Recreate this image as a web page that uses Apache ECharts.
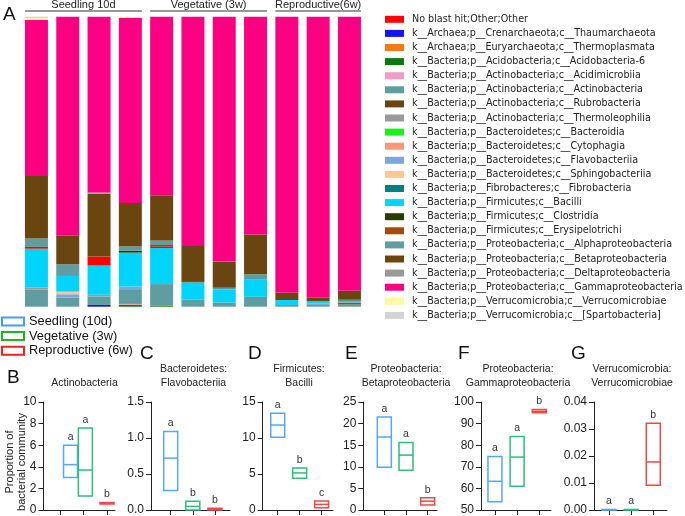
<!DOCTYPE html>
<html><head><meta charset="utf-8">
<script src="https://cdn.jsdelivr.net/npm/echarts@6/dist/echarts.min.js"></script>
<style>html,body{margin:0;padding:0;background:#fff}#c{width:685px;height:516px}</style>
</head><body><div id="c"></div>
<script>
// ---------- Panel A: stacked taxa bars (11 samples) ----------
const samples = ['S1','S2','S3','S4','S5','S6','S7','S8','S9','S10','S11'];
const groupLabels = ['Seedling 10d','Vegetative (3w)','Reproductive(6w)'];

const taxaNames = [
  'No blast hit;Other;Other',
  'k__Archaea;p__Crenarchaeota;c__Thaumarchaeota',
  'k__Archaea;p__Euryarchaeota;c__Thermoplasmata',
  'k__Bacteria;p__Acidobacteria;c__Acidobacteria-6',
  'k__Bacteria;p__Actinobacteria;c__Acidimicrobiia',
  'k__Bacteria;p__Actinobacteria;c__Actinobacteria',
  'k__Bacteria;p__Actinobacteria;c__Rubrobacteria',
  'k__Bacteria;p__Actinobacteria;c__Thermoleophilia',
  'k__Bacteria;p__Bacteroidetes;c__Bacteroidia',
  'k__Bacteria;p__Bacteroidetes;c__Cytophagia',
  'k__Bacteria;p__Bacteroidetes;c__Flavobacteriia',
  'k__Bacteria;p__Bacteroidetes;c__Sphingobacteriia',
  'k__Bacteria;p__Fibrobacteres;c__Fibrobacteria',
  'k__Bacteria;p__Firmicutes;c__Bacilli',
  'k__Bacteria;p__Firmicutes;c__Clostridia',
  'k__Bacteria;p__Firmicutes;c__Erysipelotrichi',
  'k__Bacteria;p__Proteobacteria;c__Alphaproteobacteria',
  'k__Bacteria;p__Proteobacteria;c__Betaproteobacteria',
  'k__Bacteria;p__Proteobacteria;c__Deltaproteobacteria',
  'k__Bacteria;p__Proteobacteria;c__Gammaproteobacteria',
  'k__Bacteria;p__Verrucomicrobia;c__Verrucomicrobiae',
  'k__Bacteria;p__Verrucomicrobia;c__[Spartobacteria]'
];
const taxaColors = ['#FF0000','#1414F0','#F57A14','#0A7A0A','#F59BC5','#5F9EA0','#6B4510','#999999',
  '#1EEE1E','#F8977A','#7BA7DC','#FFC98C','#008080','#00D4FA','#263F00','#A34A0C',
  '#5F9EA0','#6B4510','#999999','#FC0082','#FFF9A0','#D3D3D3'];

// relative abundance (%) per sample
const noBlastHit       = [0.6,0,3.1,0,0.5,0,0,0,0,0,0];
const thaumarchaeota   = [0,0,0.6,0,0,0,0,0,0,0,0];
const thermoplasmata   = [0,0,0,0,0,0,0,0,0,0,0];
const acidobacteria6   = [0,0,0,0.6,0.3,0,0,0,0,0,0];
const acidimicrobiia   = [0,0,0,0.35,0,0,0,0,0,0,0];
const actinobacteriaC  = [5.9,3.1,2.9,5.1,7.5,2.4,1.5,3.4,0.6,0.6,0.8];
const rubrobacteria    = [0,0,0,0,0,0,0,0,0,0,0.45];
const thermoleophilia  = [0.7,0,0.6,0,0,0,0,0,0,0,0.3];
const bacteroidia      = [0,0,0,0,0,0,0,0,0,0,0];
const cytophagia       = [0,0,0,0,0,0,0,0,0,0,0];
const flavobacteriiaC  = [0,1.2,0,0.9,0,0,0,0,0,0.45,0];
const sphingobacteriia = [0,0.9,0,0,0,0,0,0,0,0,0];
const fibrobacteria    = [0,0,0,0,0,0,0,0,0,0,0];
const bacilliC         = [13.4,5.4,10.1,11.7,12.5,5.8,4.5,6.1,1.7,0.9,0.6];
const clostridia       = [0,0,0,0.6,0.45,0,0,0,0,0,0.35];
const erysipelotrichi  = [0,0,0,0,0,0,0,0,0,0,0];
const alphaproteo      = [2.9,4.0,0,1.5,1.6,0.35,0.55,1.7,0,0,0];
const betaproteo       = [21.6,9.9,21.6,15.0,15.6,12.4,9.0,13.7,2.5,1.15,3.0];
const deltaproteo      = [0,0,0.5,0,0,0,0,0,0,0,0];
const gammaproteo      = [53.8,75.5,60.6,63.9,61.5,79.0,84.4,75.1,95.2,96.9,94.5];
const verrucomicrobiae = [0.6,0,0,0.35,0,0,0,0,0,0,0];
const spartobacteria   = [0.5,0,0,0,0,0,0,0,0,0,0];

const taxaValues = [noBlastHit,thaumarchaeota,thermoplasmata,acidobacteria6,acidimicrobiia,actinobacteriaC,
  rubrobacteria,thermoleophilia,bacteroidia,cytophagia,flavobacteriiaC,sphingobacteriia,fibrobacteria,
  bacilliC,clostridia,erysipelotrichi,alphaproteo,betaproteo,deltaproteo,gammaproteo,verrucomicrobiae,spartobacteria];
// stacking order (bottom -> top), indices into taxaNames
const stackOrder = [1,3,4,5,6,7,8,9,10,11,12,13,14,15,0,16,17,18,19,2,20,21];

// ---------- Panels B-G: floating bars (min, mean, max) ----------
const stageNames = ['Seedling (10d)','Vegetative (3w)','Reproductive (6w)'];
const stageColors = ['#5AA5F5','#2DBF7C','#F04848'];
const stageLegendColors = ['#4A9BF0','#22B522','#EE2222'];

const panelLetters = ['B','C','D','E','F','G'];
const panelTitles = ['Actinobacteria','Bacteroidetes:\nFlavobacteriia','Firmicutes:\nBacilli',
  'Proteobacteria:\nBetaproteobacteria','Proteobacteria:\nGammaproteobacteria','Verrucomicrobia:\nVerrucomicrobiae'];

const actinobacteria = [[3.0,4.2,6.0],[1.3,3.7,7.6],[0.55,0.62,0.7]];
const flavobacteriia = [[0.27,0.72,1.09],[0.0,0.05,0.12],[0.0,0.012,0.025]];
const bacilli        = [[10.1,11.8,13.45],[4.4,5.15,5.85],[0.32,0.78,1.24]];
const betaproteobacteria  = [[9.9,16.9,21.5],[9.2,12.7,15.6],[1.15,2.05,2.85]];
const gammaproteobacteria = [[53.8,63.3,74.8],[61.0,74.5,84.0],[95.0,95.7,96.5]];
const verrucomicrobiae_p  = [[0,0.0001,0.0002],[0,0.0001,0.0002],[0.0092,0.0178,0.0321]];
const panelData = [actinobacteria,flavobacteriia,bacilli,betaproteobacteria,gammaproteobacteria,verrucomicrobiae_p];

const lettersB = ['a','a','b'];
const lettersC = ['a','b','b'];
const lettersD = ['a','b','c'];
const lettersE = ['a','a','b'];
const lettersF = ['a','a','b'];
const lettersG = ['a','a','b'];
const panelSig = [lettersB,lettersC,lettersD,lettersE,lettersF,lettersG];

const yMin = [0,0,0,0,50,0];
const yMax = [10,1.5,15,25,100,0.04];
const yStep = [2,0.5,5,5,10,0.01];
const yDecimals = [0,1,0,0,0,2];

// ---------- layout (pixels / axis slots) ----------
const panelAxisX = [43.5,151,262.7,363.3,481,594];
const panelRightX = [115,230,333,437,551,667];
const panelXMin = [0.30,0.11,0.315,0.03,0.37,0.32];
const panelXMax = [3.34,3.68,3.52,3.43,3.53,3.62];
const panelBoxSlot = [[1.45,2.08,3],[1,2,3],[1,2,3],[1,2,3],[1,2,3],[1,2,3]];
const panelLetterPos = [[7,378],[140,354],[248,354],[345,354],[458,354],[571,354]];
const panelTitleX = [84.5,193.5,299,406,518,632];

const FONT = 'Liberation Sans, Arial, Helvetica, sans-serif';
const chart = echarts.init(document.getElementById('c'), null, {renderer:'canvas'});

const grids = [{left:20.8, top:16.7, width:344.3, height:290}];
const xAxes = [{type:'category', data:samples, gridIndex:0, show:false}];
const yAxes = [{type:'value', gridIndex:0, min:0, max:100, show:false}];
panelData.forEach((d,p)=>{
  grids.push({left:panelAxisX[p], top:402, width:panelRightX[p]-panelAxisX[p], height:108.7});
  xAxes.push({type:'value', gridIndex:p+1, min:panelXMin[p], max:panelXMax[p],
    axisLine:{show:true, lineStyle:{color:'#222', width:1}},
    axisTick:{show:true, customValues:[1,2,3], length:5, lineStyle:{color:'#222'}},
    axisLabel:{show:false}, splitLine:{show:false}});
  yAxes.push({type:'value', gridIndex:p+1, min:yMin[p], max:yMax[p], interval:yStep[p],
    axisLine:{show:true, lineStyle:{color:'#222', width:1}},
    axisTick:{show:true, length:5, lineStyle:{color:'#222'}},
    axisLabel:{fontSize:12, color:'#222', fontFamily:FONT, margin:7,
      formatter:v=>Number(v).toFixed(yDecimals[p])},
    splitLine:{show:false}});
});

const series = [];
stackOrder.forEach(i=>{
  series.push({type:'bar', name:taxaNames[i], stack:'tax', xAxisIndex:0, yAxisIndex:0,
    barWidth:23, data:taxaValues[i], itemStyle:{color:taxaColors[i]}, emphasis:{disabled:true}});
});

panelData.forEach((d,p)=>{
  d.forEach((vals,s)=>{
    const color = stageColors[s];
    const sig = panelSig[p][s];
    series.push({type:'custom', name:stageNames[s], xAxisIndex:p+1, yAxisIndex:p+1,
      itemStyle:{color:color}, clip:false,
      data:[[panelBoxSlot[p][s], vals[0], vals[1], vals[2]]],
      renderItem:(params, api)=>{
        const x = api.value(0);
        const lo = api.coord([x, api.value(1)]);
        const mid = api.coord([x, api.value(2)]);
        const hi = api.coord([x, api.value(3)]);
        const w = 14;
        return {type:'group', children:[
          {type:'rect', shape:{x:lo[0]-w/2, y:hi[1], width:w, height:Math.max(lo[1]-hi[1],0.01)},
            style:{fill:'none', stroke:color, lineWidth:1.5}},
          {type:'line', shape:{x1:lo[0]-w/2, y1:mid[1], x2:lo[0]+w/2, y2:mid[1]},
            style:{stroke:color, lineWidth:1.5}},
          {type:'text', x:lo[0], y:hi[1]-8, style:{text:sig, align:'center', verticalAlign:'middle',
            fontSize:10.5, fill:'#333', fontFamily:FONT}}
        ]};
      }});
  });
});

const option = {
  animation:false,
  backgroundColor:'#fff',
  grid:grids, xAxis:xAxes, yAxis:yAxes, series:series,
  legend:[
    {data:taxaNames, orient:'vertical', left:385, top:13.3, itemWidth:19, itemHeight:7, itemGap:2.1,
      icon:'rect', selectedMode:false, padding:0,
      textStyle:{fontFamily:'DejaVu Sans', fontSize:9.6, color:'#222', lineHeight:12, padding:[0,0,0,3]}},
    {data:stageNames.map((n,i)=>({name:n, itemStyle:{color:'#fff', borderColor:stageLegendColors[i], borderWidth:2}})),
      orient:'vertical', left:1, top:314.2, itemWidth:22, itemHeight:8, itemGap:0, icon:'rect',
      selectedMode:false, padding:0,
      textStyle:{fontFamily:FONT, fontSize:12.8, color:'#111', lineHeight:14.6}}
  ]
};
chart.setOption(option);

// ---------- annotations tied to the axes ----------
const g = [];
g.push({type:'text', left:3, top:5, style:{text:'A', fontSize:19, fontFamily:FONT, fill:'#111'}});
const groupRanges = [[0,3],[4,7],[8,10]];
groupRanges.forEach((r,i)=>{
  const a = chart.convertToPixel({xAxisIndex:0, yAxisIndex:0},[r[0],0]);
  const b = chart.convertToPixel({xAxisIndex:0, yAxisIndex:0},[r[1],0]);
  const x1 = a[0]-11.5, x2 = b[0]+11.5;
  g.push({type:'line', shape:{x1:x1, y1:11, x2:x2, y2:11}, style:{stroke:'#333', lineWidth:1}});
  g.push({type:'text', x:(x1+x2)/2, y:5, style:{text:groupLabels[i], align:'center', verticalAlign:'middle',
    fontSize:11, fontFamily:FONT, fill:'#222'}});
});
panelLetters.forEach((L,p)=>{
  g.push({type:'text', x:panelLetterPos[p][0], y:panelLetterPos[p][1], style:{text:L, verticalAlign:'middle',
    fontSize:19, fontFamily:FONT, fill:'#111'}});
  g.push({type:'text', x:panelTitleX[p], y:390, style:{text:panelTitles[p], align:'center', verticalAlign:'bottom',
    fontSize:10.5, lineHeight:14, fontFamily:FONT, fill:'#222'}});
});
g.push({type:'text', x:16, y:462, rotation:Math.PI/2, style:{text:'Proportion of\nbacterial community',
  align:'center', verticalAlign:'middle', fontSize:11, lineHeight:12, fontFamily:FONT, fill:'#222'}});
chart.setOption({graphic:g});
</script></body></html>
